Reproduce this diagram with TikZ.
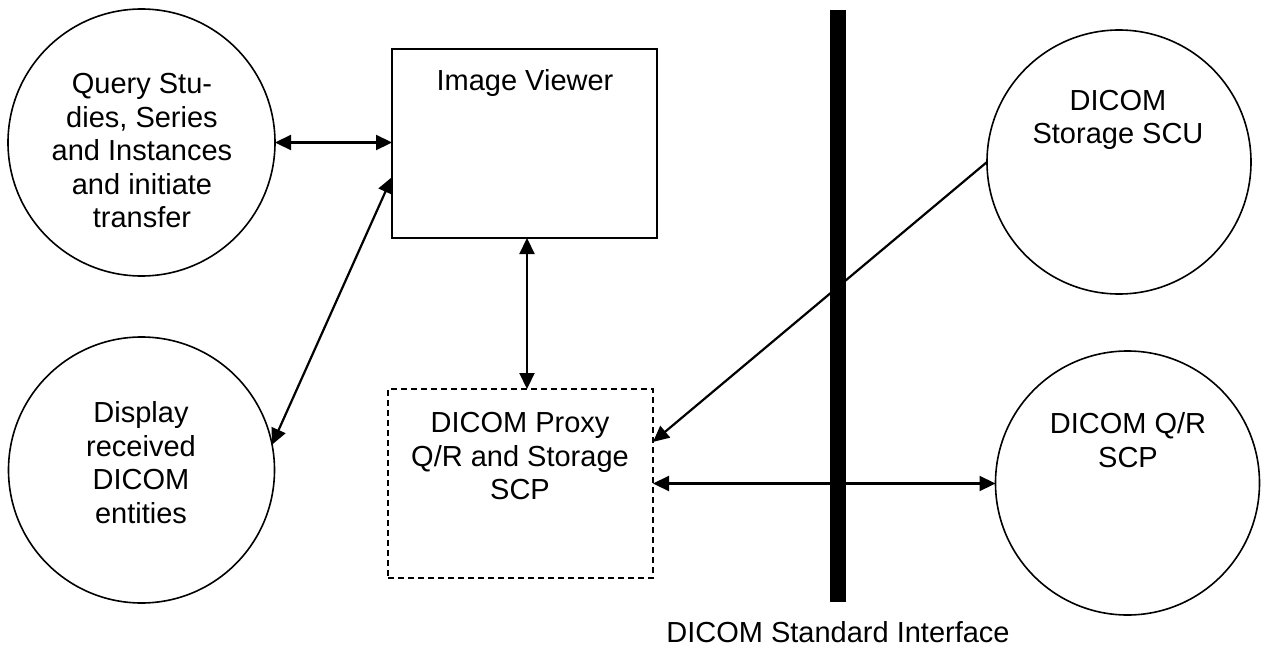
\documentclass[tikz,border=0pt]{standalone}
\usepackage{fontspec}
\setmainfont{Liberation Sans}
\usetikzlibrary{arrows.meta,calc}
\begin{document}
\begin{tikzpicture}[x=1pt,y=-1pt,
  every node/.style={font=\fontsize{29}{33.5}\selectfont, align=center, inner sep=0pt, outer sep=0pt},
  circ/.style={draw, circle, line width=1.6pt, minimum size=#1},
  boxv/.style={draw, rectangle, line width=1.6pt},
  dbl/.style={line width=2.2pt, {Triangle[length=16pt,width=15pt]}-{Triangle[length=16pt,width=15pt]}},
  sgl/.style={line width=2.2pt, -{Triangle[length=16pt,width=15pt]}},
  txt/.style={}]
\useasboundingbox (0,0) rectangle (1262,648);
% shapes
\node[circ=267pt] (q) at (141.5,142.5) {};
\node[circ=266pt] (disp) at (141.5,470) {};
\node[circ=264pt] (scu) at (1119,162) {};
\node[circ=264pt] (qr) at (1127.5,483) {};
\node[boxv, minimum width=265pt, minimum height=189pt] (viewer) at (524.5,143.5) {};
\node[draw, rectangle, line width=1.6pt, dash pattern=on 6pt off 4pt, minimum width=265pt, minimum height=189pt] (proxy) at (520.5,483.5) {};
\node[fill=black, rectangle, minimum width=16pt, minimum height=592pt] (bar) at (838,306) {};
% texts
\node[txt] (tq) at (142,151) {Query Stu-\\dies, Series\\and Instances\\and initiate\\transfer};
\node[txt] (tdisp) at (141,462.5) {Display\\received\\DICOM\\entities};
\node[txt] (tviewer) at (525,83) {Image Viewer};
\node[txt] (tproxy) at (520,456.5) {DICOM Proxy\\Q/R and Storage\\SCP};
\node[txt] (tscu) at (1118,120) {DICOM\\Storage SCU};
\node[txt] (tqr) at (1128,440) {DICOM Q/R\\SCP};
\node[txt] (tbar) at (838,632) {DICOM Standard Interface};
% connectors
\draw[dbl] (q.east) -- (q.east -| viewer.west);
\draw[dbl] ($(viewer.west)!0.355!(viewer.south west)$) -- (disp.11.6);
\draw[dbl] ($(viewer.south)+(2.5,0)$) -- ($(viewer.south |- proxy.north)+(2.5,0)$);
\draw[sgl] (scu.west) -- ($(proxy.east)!0.44!(proxy.north east)$);
\draw[dbl] (proxy.east) -- (proxy.east -| qr.west);
\end{tikzpicture}
\end{document}
